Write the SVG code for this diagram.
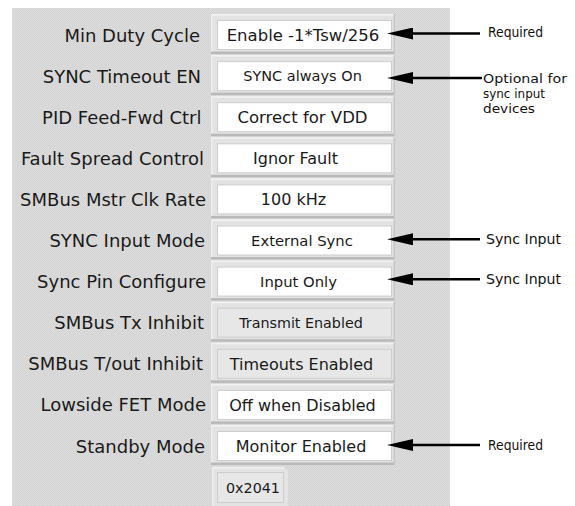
<svg xmlns="http://www.w3.org/2000/svg" width="575" height="506" viewBox="0 0 575 506">
  <defs>
    <pattern id="dither" width="2" height="2" patternUnits="userSpaceOnUse">
      <rect width="2" height="2" fill="#dcdcdc"/>
      <rect width="1" height="1" fill="#d4d4d4"/>
      <rect x="1" y="1" width="1" height="1" fill="#d4d4d4"/>
    </pattern>
    <marker id="head" markerUnits="userSpaceOnUse" viewBox="0 0 26 12" refX="13" refY="6" markerWidth="26" markerHeight="12" orient="auto">
      <path d="M0,0 L26,6 L0,12 Z" fill="#000"/>
    </marker>
    <!-- raised bevel frame shared by every setting field -->
    <g id="frame">
      <rect x="0" y="0" width="184" height="40" fill="#e3e3e3"/>
      <rect x="0" y="0" width="184" height="1.5" fill="#f3f3f3"/>
      <rect x="0" y="0" width="1.5" height="40" fill="#eeeeee"/>
      <rect x="0" y="37.5" width="184" height="2.5" fill="#b9b9b9"/>
      <rect x="182.5" y="0" width="1.5" height="40" fill="#c6c6c6"/>
    </g>
  </defs>
  <style>
    .lbl { font-family: "DejaVu Sans", Verdana, sans-serif; font-size: 18px; fill: #1a1a1a; text-anchor: end; }
    .val { font-family: "DejaVu Sans", Verdana, sans-serif; font-size: 16px; fill: #1a1a1a; text-anchor: middle; }
    .note { font-family: "Comic Sans MS", "DejaVu Sans", sans-serif; font-size: 14px; fill: #111; }
    .note.sm { font-size: 13px; }
    .field { fill: #ffffff; stroke: #cdcdcd; stroke-width: 1; }
    .field.ro { fill: #e7e7e7; }
    .conn { stroke: #000; stroke-width: 2.5; fill: none; marker-end: url(#head); }
  </style>

  <rect width="575" height="506" fill="#ffffff"/>
  <!-- panel -->
  <rect id="panel" x="12" y="8" width="438" height="498" fill="url(#dither)"/>

  <g id="row-min-duty">
    <text class="lbl" x="200" y="41.5">Min Duty Cycle</text>
    <use href="#frame" x="211" y="14"/>
    <rect class="field" x="217.5" y="20.5" width="174" height="29"/>
    <text class="val" x="303" y="41" style="font-size:16.5px">Enable -1*Tsw/256</text>
  </g>
  <g id="row-sync-timeout">
    <text class="lbl" x="201" y="82.6">SYNC Timeout EN</text>
    <use href="#frame" x="211" y="55.1"/>
    <rect class="field" x="217.5" y="61.6" width="174" height="29"/>
    <text class="val" x="302.5" y="81.4" style="font-size:14.5px">SYNC always On</text>
  </g>
  <g id="row-pid">
    <text class="lbl" x="201.5" y="123.7">PID Feed-Fwd Ctrl</text>
    <use href="#frame" x="211" y="96.2"/>
    <rect class="field" x="217.5" y="102.7" width="174" height="29"/>
    <text class="val" x="302.5" y="123" style="font-size:16.5px">Correct for VDD</text>
  </g>
  <g id="row-fault">
    <text class="lbl" x="204" y="164.8">Fault Spread Control</text>
    <use href="#frame" x="211" y="137.3"/>
    <rect class="field" x="217.5" y="143.8" width="174" height="29"/>
    <text class="val" x="295.5" y="164">Ignor Fault</text>
  </g>
  <g id="row-smbus-clk">
    <text class="lbl" x="206" y="205.9">SMBus Mstr Clk Rate</text>
    <use href="#frame" x="211" y="178.4"/>
    <rect class="field" x="217.5" y="184.9" width="174" height="29"/>
    <text class="val" x="293.5" y="205">100 kHz</text>
  </g>
  <g id="row-sync-mode">
    <text class="lbl" x="205" y="247">SYNC Input Mode</text>
    <use href="#frame" x="211" y="219.5"/>
    <rect class="field" x="217.5" y="226" width="174" height="29"/>
    <text class="val" x="302" y="245.5" style="font-size:14.8px">External Sync</text>
  </g>
  <g id="row-sync-pin">
    <text class="lbl" x="206" y="288.1">Sync Pin Configure</text>
    <use href="#frame" x="211" y="260.6"/>
    <rect class="field" x="217.5" y="267.1" width="174" height="29"/>
    <text class="val" x="298.5" y="286.6" style="font-size:14.8px">Input Only</text>
  </g>
  <g id="row-tx-inhibit">
    <text class="lbl" x="204" y="329.2">SMBus Tx Inhibit</text>
    <use href="#frame" x="211" y="301.7"/>
    <rect class="field ro" x="217.5" y="308.2" width="174" height="29"/>
    <text class="val" x="301" y="327.5" style="font-size:14.3px">Transmit Enabled</text>
  </g>
  <g id="row-tout-inhibit">
    <text class="lbl" x="203" y="370.3">SMBus T/out Inhibit</text>
    <use href="#frame" x="211" y="342.8"/>
    <rect class="field ro" x="217.5" y="349.3" width="174" height="29"/>
    <text class="val" x="301.5" y="369.6">Timeouts Enabled</text>
  </g>
  <g id="row-lowside">
    <text class="lbl" x="206" y="411.4">Lowside FET Mode</text>
    <use href="#frame" x="211" y="383.9"/>
    <rect class="field" x="217.5" y="390.4" width="174" height="29"/>
    <text class="val" x="302.5" y="410.7">Off when Disabled</text>
  </g>
  <g id="row-standby">
    <text class="lbl" x="205" y="452.5">Standby Mode</text>
    <use href="#frame" x="211" y="425"/>
    <rect class="field" x="217.5" y="431.5" width="174" height="29"/>
    <text class="val" x="301" y="451.8">Monitor Enabled</text>
  </g>
  <g id="status-word">
    <path d="M212,467 L284,467 L288,471 L288,506 L212,506 Z" fill="#e3e3e3"/>
    <rect x="212" y="467" width="72" height="1.5" fill="#f3f3f3"/>
    <rect x="212" y="467" width="1.5" height="39" fill="#eeeeee"/>
    <rect class="field ro" x="217.5" y="472.5" width="66" height="30"/>
    <text class="val" x="253" y="492.5" style="font-size:14.3px">0x2041</text>
  </g>

  <!-- call-outs -->
  <g id="connectors">
    <line class="conn" x1="480" y1="33.5" x2="400" y2="33.5"/>
    <line class="conn" x1="482" y1="78" x2="400" y2="78"/>
    <line class="conn" x1="480" y1="239.3" x2="400" y2="239.3"/>
    <line class="conn" x1="480" y1="279.3" x2="400" y2="279.3"/>
    <line class="conn" x1="480" y1="445" x2="400" y2="445"/>
  </g>
  <g id="notes">
    <text class="note" x="488" y="37" textLength="55" lengthAdjust="spacingAndGlyphs">Required</text>
    <text class="note sm" x="483" y="83" textLength="84" lengthAdjust="spacingAndGlyphs">Optional for</text>
    <text class="note sm" x="483" y="98" textLength="62" lengthAdjust="spacingAndGlyphs">sync input</text>
    <text class="note sm" x="483" y="113" textLength="52" lengthAdjust="spacingAndGlyphs">devices</text>
    <text class="note" x="486" y="244" textLength="75" lengthAdjust="spacingAndGlyphs">Sync Input</text>
    <text class="note" x="486" y="284" textLength="75" lengthAdjust="spacingAndGlyphs">Sync Input</text>
    <text class="note" x="488" y="450" textLength="55" lengthAdjust="spacingAndGlyphs">Required</text>
  </g>
</svg>
